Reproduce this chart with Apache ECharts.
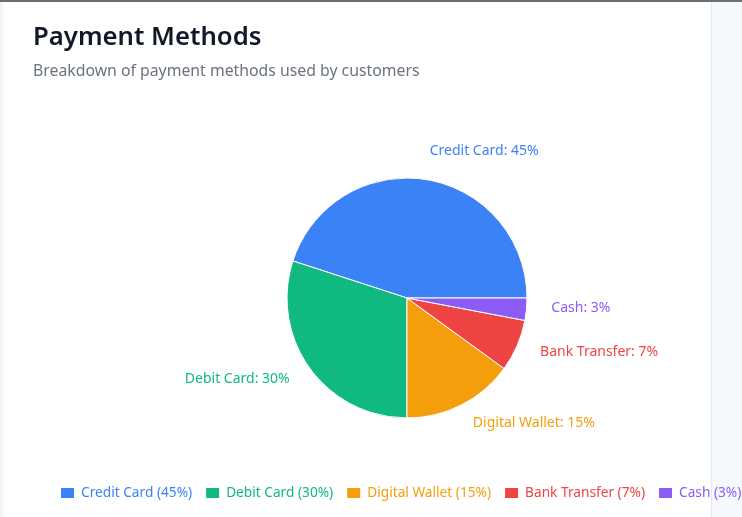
<!DOCTYPE html>
<html>
<head>
<meta charset="utf-8">
<script src="https://cdn.jsdelivr.net/npm/echarts@6/dist/echarts.min.js"></script>
<style>
html,body{margin:0;padding:0;width:742px;height:517px;overflow:hidden;background:#fff;}
#topline{position:absolute;left:0;top:0;width:742px;height:2px;background:#6b6f75;}
#leftstrip{position:absolute;left:0;top:2px;width:3px;height:515px;background:#f1f4f8;}
#rightstrip{position:absolute;left:711px;top:2px;width:31px;height:515px;background:#f6f9fc;border-left:1px solid #e6eaef;}
#chart{position:absolute;left:0;top:0;width:742px;height:517px;}
</style>
</head>
<body>
<div id="topline"></div>
<div id="leftstrip"></div>
<div id="rightstrip"></div>
<div id="chart"></div>
<script>
const categories = ['Credit Card', 'Debit Card', 'Digital Wallet', 'Bank Transfer', 'Cash'];
const values = [45, 30, 15, 7, 3];
const colors = ['#3b82f6', '#10b981', '#f59e0b', '#ef4444', '#8b5cf6'];
const titleText = 'Payment Methods';
const subtitleText = 'Breakdown of payment methods used by customers';

const FONT = '"Noto Sans", "Open Sans", sans-serif';
const chart = echarts.init(document.getElementById('chart'), null, {renderer: 'canvas'});

const data = categories.map((name, i) => ({
  name: name,
  value: values[i],
  itemStyle: {color: colors[i]},
  label: {color: colors[i]}
}));

const legendData = categories.map((name, i) => ({
  name: name,
  textStyle: {color: colors[i]}
}));

chart.setOption({
  animation: false,
  backgroundColor: 'transparent',
  title: {
    text: titleText,
    subtext: subtitleText,
    left: 28,
    top: 20,
    itemGap: 12,
    textStyle: {fontFamily: FONT, fontSize: 25.7, fontWeight: 600, color: '#111827'},
    subtextStyle: {fontFamily: FONT, fontSize: 15.8, color: '#6b7280'}
  },
  legend: {
    data: legendData,
    left: 59,
    top: 486,
    width: 900,
    padding: 0,
    itemWidth: 15,
    itemHeight: 12,
    itemGap: 12,
    icon: 'rect',
    textStyle: {fontFamily: FONT, fontSize: 13.7, padding: [0, 0, 0, 1]},
    formatter: function (name) {
      const i = categories.indexOf(name);
      return name + ' (' + values[i] + '%)';
    }
  },
  series: [{
    type: 'pie',
    center: [407, 298],
    radius: 120,
    startAngle: 0,
    clockwise: false,
    avoidLabelOverlap: false,
    itemStyle: {borderColor: '#ffffff', borderWidth: 1},
    label: {
      show: true,
      position: 'outside',
      formatter: '{b}: {d}%',
      fontFamily: FONT,
      fontSize: 14,
      distanceToLabelLine: 0
    },
    labelLine: {show: false, length: 25, length2: 0},
    labelLayout: {dy: -4},
    emphasis: {disabled: true},
    data: data
  }]
});
</script>
</body>
</html>
